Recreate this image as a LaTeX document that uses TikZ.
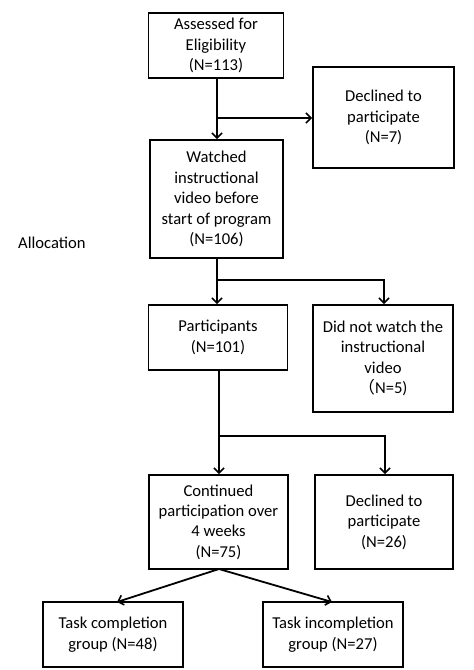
\documentclass[tikz,border=0pt]{standalone}
\usepackage{fontspec}
\setmainfont{Carlito}
\newfontfamily\cjk{Noto Sans CJK SC}
\usetikzlibrary{arrows.meta}
\begin{document}
\begin{tikzpicture}[x=1pt,y=-1pt,
  box/.style={draw=black,line width=1.8pt,align=center,inner sep=0pt,
    font=\fontsize{16.6}{20.4}\selectfont},
  conn/.style={line width=1.8pt},
  arr/.style={conn,-{Straight Barb[length=5pt,width=10pt,line width=1.6pt]}}]
\useasboundingbox (0,0) rectangle (474,670);
\fill[white] (0,0) rectangle (474,670);
\node[box,minimum width=135pt,minimum height=65pt] (assess) at (216,45.5) {Assessed for\\Eligibility\\(N=113)};
\node[box,minimum width=141pt,minimum height=101pt] (decl1) at (383.5,117.5) {Declined to\\participate\\(N=7)};
\node[box,minimum width=133pt,minimum height=118pt] (watch) at (216.5,199) {Watched\\instructional\\video before\\start of program\\(N=106)};
\node[font=\fontsize{16.6}{20.4}\selectfont,anchor=west,inner sep=0pt] (alloc) at (18,243) {Allocation};
\node[box,minimum width=139pt,minimum height=65pt] (part) at (218,337.5) {Participants\\(N=101)};
\node[box,minimum width=140pt,minimum height=107pt] (nowatch) at (383,358.5) {Did not watch the\\instructional\\video\\{\cjk （}N=5)};
\node[box,minimum width=139pt,minimum height=94pt] (cont) at (218.5,522) {Continued\\participation over\\4 weeks\\(N=75)};
\node[box,minimum width=138pt,minimum height=94pt] (decl2) at (384,522) {Declined to\\participate\\(N=26)};
\node[box,minimum width=140pt,minimum height=65pt] (comp) at (113,634.5) {Task completion\\group (N=48)};
\node[box,minimum width=140pt,minimum height=65pt] (incomp) at (333,634.5) {Task incompletion\\group (N=27)};
% connectors
\coordinate (s1) at (217,78);
\coordinate (b1) at (217,118);
\draw[arr] (s1) -- (s1 |- watch.north);
\draw[arr] (b1) -- (decl1.west |- b1);
\coordinate (s2) at (217,258);
\coordinate (b2) at (217,280);
\coordinate (b2r) at (384,280);
\draw[arr] (s2) -- (s2 |- part.north);
\draw[arr] (b2) -- (b2r) -- (b2r |- nowatch.north);
\coordinate (s3) at (219,370);
\coordinate (b3) at (219,436);
\coordinate (b3r) at (385,436);
\draw[arr] (s3) -- (s3 |- cont.north);
\draw[arr] (b3) -- (b3r) -- (b3r |- decl2.north);
\coordinate (s4) at (219,569);
\coordinate (t1) at (117,602);
\coordinate (t2) at (332,602);
\draw[arr] (s4) -- (t1);
\draw[arr] (s4) -- (t2);
\end{tikzpicture}
\end{document}
